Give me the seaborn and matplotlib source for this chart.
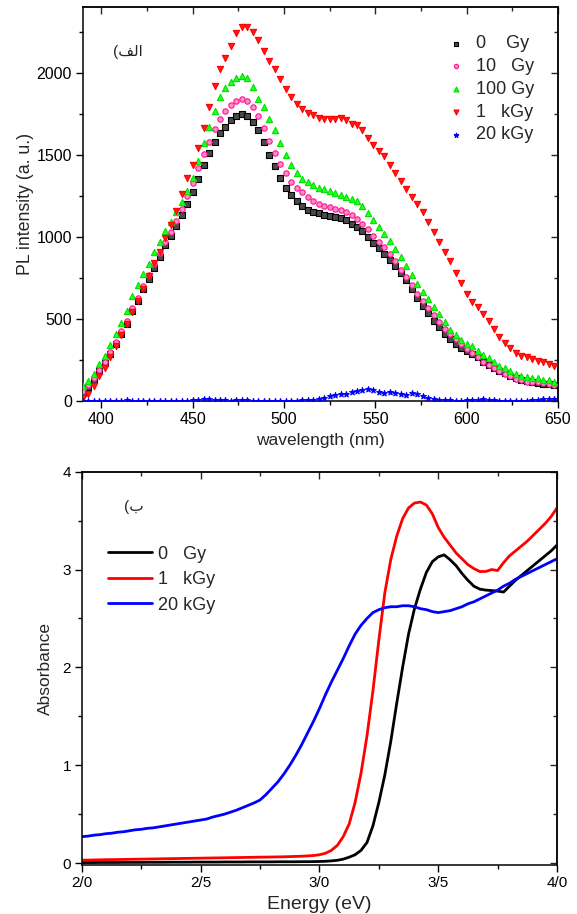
import numpy as np
import pandas as pd
import matplotlib
matplotlib.use("Agg")
from matplotlib import pyplot as plt
from matplotlib.ticker import MultipleLocator, FixedLocator
import seaborn as sns

# ---- PL spectra (top panel), sampled every 3 nm ----
wavelength = np.arange(390, 649, 3)

pl_0gy = [50, 85, 130, 180, 230, 285, 345, 410, 470, 545,
          610, 680, 745, 810, 875, 950, 1005, 1065, 1135, 1200,
          1270, 1355, 1440, 1510, 1580, 1630, 1670, 1710, 1735, 1745,
          1735, 1700, 1650, 1580, 1500, 1430, 1360, 1300, 1255, 1215,
          1190, 1165, 1150, 1145, 1135, 1125, 1120, 1115, 1100, 1080,
          1060, 1035, 1000, 965, 930, 895, 860, 820, 780, 735,
          685, 625, 580, 535, 490, 450, 410, 380, 350, 325,
          305, 285, 265, 240, 220, 200, 185, 170, 155, 140,
          130, 120, 115, 110, 106, 102, 98]

pl_10gy = [60, 95, 140, 190, 240, 300, 360, 425, 490, 565,
           630, 700, 765, 835, 900, 970, 1030, 1095, 1170, 1250,
           1330, 1420, 1505, 1580, 1655, 1715, 1765, 1805, 1830, 1840,
           1830, 1790, 1735, 1665, 1585, 1510, 1445, 1390, 1335, 1300,
           1270, 1240, 1220, 1200, 1190, 1180, 1170, 1165, 1150, 1135,
           1110, 1080, 1045, 1005, 970, 935, 895, 855, 800, 755,
           705, 650, 610, 565, 525, 480, 440, 405, 375, 345,
           315, 290, 265, 240, 220, 200, 180, 165, 150, 135,
           125, 118, 116, 113, 108, 103, 98]

pl_100gy = [90, 120, 165, 225, 275, 340, 405, 475, 550, 640,
            705, 775, 835, 905, 970, 1035, 1090, 1150, 1210, 1280,
            1360, 1460, 1570, 1670, 1765, 1850, 1905, 1945, 1970, 1978,
            1965, 1910, 1840, 1790, 1720, 1650, 1570, 1500, 1440, 1390,
            1355, 1335, 1315, 1300, 1290, 1280, 1265, 1255, 1245, 1230,
            1215, 1190, 1145, 1100, 1060, 1020, 975, 925, 875, 820,
            765, 715, 665, 620, 575, 530, 480, 435, 400, 370,
            350, 335, 305, 280, 260, 240, 215, 200, 185, 165,
            155, 148, 142, 138, 130, 125, 118]

pl_1kgy = [20, 45, 90, 150, 200, 265, 335, 400, 470, 540,
           610, 680, 760, 840, 910, 990, 1070, 1160, 1260, 1360,
           1440, 1540, 1660, 1790, 1920, 2025, 2090, 2160, 2240, 2275,
           2280, 2250, 2200, 2130, 2070, 2020, 1960, 1900, 1850, 1810,
           1780, 1755, 1740, 1725, 1720, 1715, 1720, 1722, 1710, 1690,
           1680, 1650, 1600, 1560, 1525, 1490, 1440, 1390, 1340, 1290,
           1240, 1200, 1150, 1090, 1030, 970, 910, 850, 780, 720,
           650, 600, 570, 530, 490, 440, 390, 355, 320, 295,
           275, 265, 255, 245, 235, 225, 212]

pl_20kgy = [0, 0, 2, 0, 0, 0, 0, 0, 3, 0,
            0, 0, 2, 0, 0, 0, 0, 0, 2, 0,
            3, 5, 9, 10, 6, 4, 3, 2, 6, 8,
            5, 2, 0, 0, 2, 0, 0, 0, 0, 2,
            3, 4, 8, 12, 20, 30, 38, 40, 44, 52,
            62, 68, 70, 64, 56, 48, 52, 50, 42, 38,
            46, 44, 32, 20, 12, 8, 5, 3, 2, 0,
            3, 6, 8, 9, 6, 3, 2, 0, 0, 0,
            2, 0, 3, 8, 10, 9, 10]

pl_labels = ["0    Gy", "10   Gy", "100 Gy", "1   kGy", "20 kGy"]

# ---- absorbance (bottom panel), sampled every 0.025 eV ----
energy = np.linspace(2.0, 4.0, 81)

abs_0gy = [0.005, 0.005, 0.005, 0.006, 0.006, 0.006, 0.006, 0.007, 0.007, 0.007,
           0.007, 0.008, 0.008, 0.008, 0.008, 0.009, 0.009, 0.009, 0.009, 0.010,
           0.010, 0.010, 0.010, 0.010, 0.011, 0.011, 0.011, 0.011, 0.012, 0.012,
           0.012, 0.012, 0.012, 0.013, 0.013, 0.013, 0.013, 0.014, 0.014, 0.015,
           0.016, 0.018, 0.022, 0.028, 0.040, 0.060, 0.085, 0.130, 0.210, 0.380,
           0.62, 0.90, 1.24, 1.63, 2.00, 2.34, 2.60, 2.80, 2.97, 3.08,
           3.13, 3.15, 3.10, 3.04, 2.96, 2.89, 2.83, 2.80, 2.79, 2.785,
           2.78, 2.77, 2.83, 2.89, 2.94, 2.99, 3.04, 3.09, 3.14, 3.19,
           3.25]

abs_1kgy = [0.030, 0.030, 0.032, 0.033, 0.034, 0.035, 0.036, 0.037, 0.038, 0.039,
            0.040, 0.041, 0.042, 0.043, 0.044, 0.045, 0.046, 0.047, 0.048, 0.049,
            0.050, 0.051, 0.052, 0.053, 0.054, 0.055, 0.056, 0.057, 0.058, 0.059,
            0.060, 0.061, 0.062, 0.063, 0.064, 0.066, 0.068, 0.070, 0.073, 0.077,
            0.085, 0.100, 0.130, 0.180, 0.270, 0.400, 0.620, 0.920, 1.300, 1.760,
            2.28, 2.76, 3.10, 3.34, 3.52, 3.63, 3.68, 3.69, 3.66, 3.57,
            3.43, 3.33, 3.25, 3.17, 3.11, 3.05, 3.01, 2.98, 2.98, 3.00,
            2.99, 3.07, 3.14, 3.19, 3.24, 3.29, 3.35, 3.41, 3.47, 3.54,
            3.63]

abs_20kgy = [0.270, 0.275, 0.285, 0.290, 0.300, 0.305, 0.315, 0.320, 0.330, 0.340,
             0.345, 0.355, 0.360, 0.370, 0.380, 0.390, 0.400, 0.410, 0.420, 0.430,
             0.440, 0.450, 0.470, 0.485, 0.500, 0.520, 0.540, 0.565, 0.590, 0.615,
             0.645, 0.700, 0.765, 0.830, 0.910, 1.000, 1.100, 1.210, 1.330, 1.450,
             1.580, 1.720, 1.850, 1.970, 2.090, 2.220, 2.340, 2.430, 2.500, 2.560,
             2.590, 2.610, 2.620, 2.620, 2.630, 2.630, 2.620, 2.600, 2.590, 2.570,
             2.560, 2.570, 2.580, 2.600, 2.620, 2.650, 2.670, 2.700, 2.730, 2.760,
             2.790, 2.830, 2.860, 2.900, 2.930, 2.960, 2.990, 3.020, 3.050, 3.080,
             3.110]

abs_labels = ["0   Gy", "1   kGy", "20 kGy"]
energy_ticks = [2.0, 2.5, 3.0, 3.5, 4.0]
energy_ticklabels = ["2/0", "2/5", "3/0", "3/5", "4/0"]

sns.set_style("ticks")
plt.rcParams['font.family'] = ['Liberation Sans', 'DejaVu Sans']
plt.rcParams['axes.linewidth'] = 1.1

fig = plt.figure(figsize=(5.77, 9.14), dpi=100)
ax1 = fig.add_axes([0.1438, 0.5613, 0.8232, 0.4311])
ax2 = fig.add_axes([0.1421, 0.0536, 0.8232, 0.4303])


def style_axes(ax, xmaj, xmin, ymaj, ymin, fs):
    ax.xaxis.set_major_locator(MultipleLocator(xmaj))
    ax.xaxis.set_minor_locator(MultipleLocator(xmin))
    ax.yaxis.set_major_locator(MultipleLocator(ymaj))
    ax.yaxis.set_minor_locator(MultipleLocator(ymin))
    ax.tick_params(which='both', direction='out', top=False, right=False,
                   colors='black', labelsize=fs, pad=3)
    ax.tick_params(which='major', length=5, width=1)
    ax.tick_params(which='minor', length=3, width=1)
    for s in ax.spines.values():
        s.set_visible(True)
        s.set_color('black')
    # mirrored ticks pointing inward on top / right
    top = ax.secondary_xaxis('top')
    top.xaxis.set_major_locator(MultipleLocator(xmaj))
    top.xaxis.set_minor_locator(MultipleLocator(xmin))
    top.tick_params(which='both', direction='in', labeltop=False)
    top.tick_params(which='major', length=5, width=1)
    top.tick_params(which='minor', length=3, width=1)
    right = ax.secondary_yaxis('right')
    right.yaxis.set_major_locator(MultipleLocator(ymaj))
    right.yaxis.set_minor_locator(MultipleLocator(ymin))
    right.tick_params(which='both', direction='in', labelright=False)
    right.tick_params(which='major', length=5, width=1)
    right.tick_params(which='minor', length=3, width=1)


# ---- top panel: PL intensity ----
pl_series = [pl_0gy, pl_10gy, pl_100gy, pl_1kgy, pl_20kgy]
pl_marker = ['s', 'o', '^', 'v', '*']
pl_face = ['#4a4a4a', '#ff8cc6', '#22ff22', '#ff1a1a', '#0000ff']
pl_edge = ['#000000', '#ff1493', '#00e000', '#ff0000', '#0000ff']
pl_size = [13, 15, 20, 20, 18]

for vals, lab, m, fc, ec, sz in zip(pl_series, pl_labels, pl_marker, pl_face, pl_edge, pl_size):
    sns.scatterplot(x=wavelength, y=vals, ax=ax1, marker=m, s=sz, color=fc,
                    edgecolor=ec, linewidth=0.8, label=lab, zorder=3)

ax1.set_xlim(390, 650)
ax1.set_ylim(0, 2400)
style_axes(ax1, 50, 25, 500, 250, 11.5)
ax1.set_xlabel('wavelength (nm)', fontsize=12.5, labelpad=4)
ax1.set_ylabel('PL intensity (a. u.)', fontsize=12.8, labelpad=2)
ax1.legend(loc='upper left', bbox_to_anchor=(0.766, 0.928), frameon=False,
           fontsize=13, handlelength=1.0, handletextpad=0.6, labelspacing=0.32,
           borderpad=0, borderaxespad=0, markerscale=0.8)
ax1.text(0.063, 0.886, "(\uFED2\uFEDF\uFE8D", transform=ax1.transAxes,
         fontsize=11, ha='left', va='center')

# ---- bottom panel: absorbance ----
abs_series = [abs_0gy, abs_1kgy, abs_20kgy]
abs_colors = ['#000000', '#ff0000', '#0000ff']
for vals, lab, c in zip(abs_series, abs_labels, abs_colors):
    sns.lineplot(x=energy, y=vals, ax=ax2, color=c, linewidth=2.0, label=lab)

ax2.set_xlim(2.0, 4.0)
ax2.set_ylim(-0.02, 4.0)
style_axes(ax2, 0.5, 0.25, 1, 0.5, 11)
ax2.xaxis.set_major_locator(FixedLocator(energy_ticks))
ax2.set_xticklabels(energy_ticklabels)
ax2.set_xlabel('Energy (eV)', fontsize=14, labelpad=4)
ax2.set_ylabel('Absorbance', fontsize=12.5, labelpad=7)
ax2.legend(loc='upper left', bbox_to_anchor=(0.055, 0.812), frameon=False,
           fontsize=13, handlelength=2.45, handletextpad=0.3, labelspacing=0.47,
           borderpad=0, borderaxespad=0)
ax2.text(0.088, 0.910, "(\uFE8F", transform=ax2.transAxes,
         fontsize=11, ha='left', va='center')

fig.savefig('out.png', dpi=100)
